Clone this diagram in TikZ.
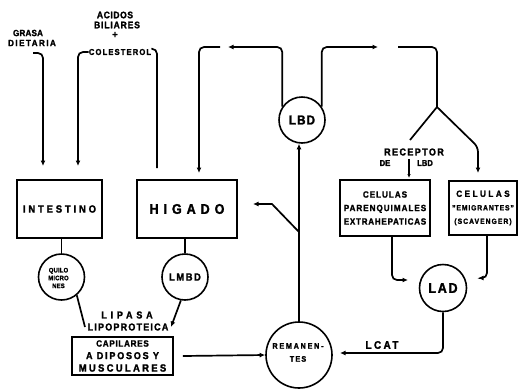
\documentclass[tikz,border=0pt]{standalone}
\usepackage{fontspec}
\setmainfont{Liberation Sans Bold}[FakeBold=1.8, FakeStretch=0.9]
\usetikzlibrary{arrows.meta}
\newcommand\Lsp[2]{{\addfontfeatures{LetterSpace=#1}#2}}
\newcommand\fsz[2]{\fontsize{#1}{#2}\selectfont}
\begin{document}
\begin{tikzpicture}[x=1pt,y=-1pt,
  ln/.style={line width=1.7pt, rounded corners=5pt},
  ar/.style={ln, -{Latex[length=5.5pt,width=5pt]}},
  bx/.style={draw, line width=1.6pt, inner sep=0pt, align=center},
  cir/.style={circle, draw, line width=1.6pt, inner sep=0pt, align=center},
  tx/.style={inner sep=0pt, align=center}]
\useasboundingbox (0,0) rectangle (519,389);

% boxes
\node[bx, minimum width=85pt, minimum height=58pt, font=\fsz{10.5}{12}] (int) at (59.5,209) {\Lsp{27}{INTESTINO}};
\node[bx, minimum width=100pt, minimum height=58pt, font=\fsz{14}{16}] (hig) at (187,209) {\Lsp{35}{HIGADO}};
\node[bx, minimum width=90pt, minimum height=56pt, font=\fsz{9}{13.5}] (par) at (385,208) {\Lsp{11}{CELULAS}\\\Lsp{11}{PARENQUIMALES}\\\Lsp{8}{EXTRAHEPATICAS}};
\node[bx, minimum width=68pt, minimum height=54pt, font=\fsz{7.5}{13.5}] (em) at (483,208) {{\fsz{9}{13.5}\Lsp{28}{CELULAS}}\\\Lsp{12}{"EMIGRANTES"}\\\Lsp{14}{(SCAVENGER)}};
\node[bx, minimum width=101pt, minimum height=38pt, font=\fsz{9}{12.5}] (cap) at (122.5,356) {\Lsp{8}{CAPILARES}\\{\fsz{10}{12.5}\Lsp{18}{A DIPOSOS Y}}\\{\fsz{10.5}{12.5}\Lsp{22}{MUSCULARES}}};

% circles
\node[cir, minimum size=46pt] (quilo) at (61.5,277) {};
\node[tx, font=\fsz{6.5}{7.8}] (quilot) at (58.5,278) {\Lsp{3}{QUILO}\\\Lsp{3}{MICRO}\\\Lsp{3}{NES}};
\node[cir, minimum size=46pt, font=\fsz{10.5}{12}] (lmbd) at (185,277) {\Lsp{14}{LMBD}};
\node[cir, minimum size=46pt, font=\fsz{13}{15}] (lbd) at (302,120) {\Lsp{8}{LBD}};
\node[cir, minimum size=47pt, font=\fsz{14}{16}] (lad) at (443,288) {\Lsp{12}{LAD}};
\node[cir, minimum size=66pt] (rem) at (299,355) {};
\node[tx, font=\fsz{8}{13}] (remt) at (298,352.5) {\Lsp{22}{REMANEN-}\\\Lsp{15}{TES}};

% texts
\node[tx, font=\fsz{9}{10}] (grasa) at (28,33) {\Lsp{2}{GRASA}};
\node[tx, font=\fsz{9}{10}] (dieta) at (32,43) {\Lsp{16}{DIETARIA}};
\node[tx, font=\fsz{9.5}{10}] (acid) at (115,15) {\Lsp{6}{ACIDOS}};
\node[tx, font=\fsz{9.5}{10}] (bili) at (117,25) {\Lsp{9}{BILIARES}};
\node[tx, font=\fsz{10}{10}] (plus) at (115,35) {+};
\node[tx, font=\fsz{8.5}{10}] (colest) at (120,52) {\Lsp{13}{COLESTEROL}};
\node[tx, font=\fsz{10}{11}] (recep) at (414,152) {\Lsp{14}{RECEPTOR}};
\node[tx, font=\fsz{8.5}{10}] (de) at (385,163) {DE};
\node[tx, font=\fsz{8.5}{10}] (lbdt) at (425,163) {LBD};
\node[tx, font=\fsz{10}{11}] (lipasa) at (127,315) {\Lsp{38}{LIPASA}};
\node[tx, font=\fsz{10}{11}] (lipo) at (128,327) {\Lsp{12}{LIPOPROTEICA}};
\node[tx, font=\fsz{11}{12}] (lcat) at (382,345) {\Lsp{22}{LCAT}};

% coordinates
\coordinate (g0) at (33,53);
\coordinate (g1) at (43,166);
\coordinate (c1) at (78,166);
\coordinate (h0) at (157,168);
\coordinate (l1) at (228,47);
\coordinate (l2) at (220,47);
\coordinate (l3) at (199,173);
\coordinate (r1) at (378,47);
\coordinate (r2) at (398,47);
\coordinate (br) at (437,107);
\coordinate (bl) at (410,140);
\coordinate (br2) at (478,147);
\coordinate (br3) at (478,173);
\coordinate (rc0) at (409,159);
\coordinate (rc1) at (409,178);
\coordinate (bj) at (299,232);
\coordinate (bk) at (272,204);
\coordinate (hl) at (253,204);
\coordinate (q1) at (85,327);
\coordinate (m1) at (171,327);
\coordinate (lc1) at (340,353);
\coordinate (pl) at (408,280);
\coordinate (el) at (478,278);

% connectors
\draw[ar] (g0) -| (g1);
\draw[ar] (colest.west) -| (c1);
\draw[ln] (h0) |- (colest.north east);
\draw[ar] (lbd.146) |- (l1);
\draw[ar] (l2) -| (l3);
\draw[ar] (lbd.34) |- (r1);
\draw[ln] (r2) -| (br);
\draw[ln] (br) -- (bl);
\draw[ar] (br) -- (br2) -- (br3);
\draw[line width=1.2pt, -{Latex[length=4pt,width=3.5pt]}] (rc0) -- (rc1);
\draw[ar] (rem.north) -- (rem.north |- lbd.south);
\draw[ar, rounded corners=0pt] (bj) -- (bk) -- (hl);
\draw[ln] (int.south -| quilo.north) -- (quilo.north);
\draw[ln] (hig.south -| lmbd.north) -- (lmbd.north);
\draw[ln] (quilo.-50) -- (q1);
\draw[ar] (lmbd.-100) -- (m1);
\draw[ar] ([xshift=9pt]cap.east) -- (rem.west);
\draw[ar] (lad.south) |- (lc1);
\draw[ar] ([xshift=7pt]par.south) |- (pl);
\draw[ar] ([xshift=4pt]em.south) |- (el);
\end{tikzpicture}
\end{document}
